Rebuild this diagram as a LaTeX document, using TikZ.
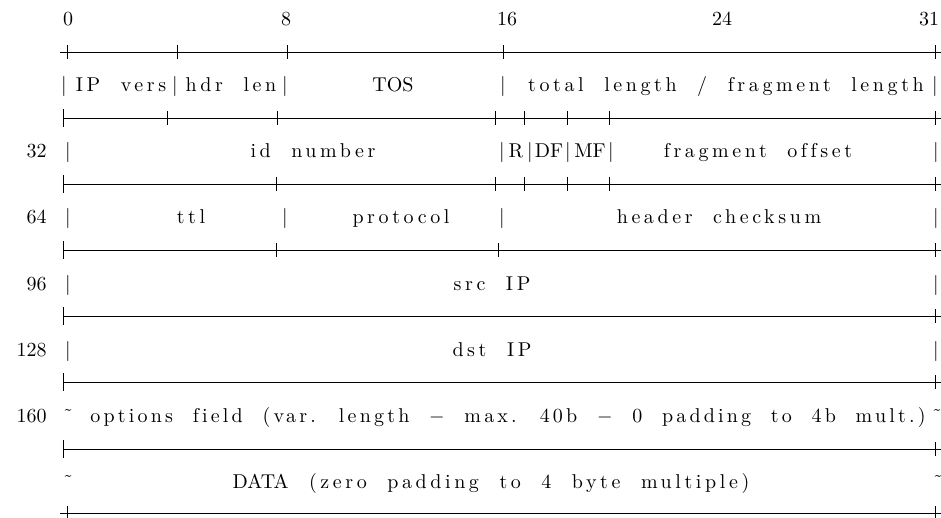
\documentclass[tikz,border=0pt]{standalone}
\usepackage{fontspec}
\newfontfamily\spacedfont{lmroman10-regular}[Extension=.otf, LetterSpace=18, WordSpace=2.0, Ligatures={NoCommon}]
\newfontfamily\optsfont{lmroman10-regular}[Extension=.otf, LetterSpace=16, WordSpace=2.0, Ligatures={NoCommon}]
\newcommand\hdrtilde{{\char"02DC}}

\begin{document}
\begin{tikzpicture}
    [x=0.5pt, y=-0.5pt,
     rule/.style={line width=0.4pt},
     fld/.style={anchor=base, inner sep=0pt, font=\spacedfont},
     caps/.style={anchor=base, inner sep=0pt},
     bar/.style={anchor=base, inner sep=0pt},
     bitno/.style={anchor=base, inner sep=0pt},
     rowno/.style={anchor=base east, inner sep=0pt}]

    \useasboundingbox (0,0) rectangle (941,518);

    % bit numbers
    \node [bitno] (n0)  at (68,26)  {0};
    \node [bitno] (n8)  at (286,26) {8};
    \node [bitno] (n16) at (507,26) {16};
    \node [bitno] (n24) at (722,26) {24};
    \node [bitno] (n31) at (929,26) {31};

    % rules
    \draw [rule] (60,52) -- (941,52);
    \foreach \x in {67,177,287,503,935}
        \draw [rule] (\x,45) -- (\x,59);
    \foreach \y in {118,184,250,316,382,449} {
        \draw [rule] (63,\y) -- (941,\y);
        \draw [rule] (63,\y-9) -- (63,\y+9);
        \draw [rule] (935,\y-7) -- (935,\y+7);
    }
    \foreach \x in {167,277,495,524,567,609}
        \draw [rule] (\x,111) -- (\x,125);
    \foreach \x in {276,495,524,567,609}
        \draw [rule] (\x,177) -- (\x,191);
    \foreach \x in {276,498}
        \draw [rule] (\x,243) -- (\x,257);
    \draw [rule] (60,513) -- (941,513);
    \foreach \x in {67,935}
        \draw [rule] (\x,506) -- (\x,520);

    % row 0
    \node [bar] (b0a) at (64,92)  {|};
    \node [fld] (vers) at (121,92) {IP vers};
    \node [bar] (b0b) at (175,92) {|};
    \node [fld] (hlen) at (231,92) {hdr len};
    \node [bar] (b0c) at (285,92) {|};
    \node [caps] (tos) at (393,92) {TOS};
    \node [bar] (b0d) at (503,92) {|};
    \node [fld] (tlen) at (726,92) {total length / fragment length};
    \node [bar] (b0e) at (935,92) {|};

    % row 32
    \node [rowno] (r32) at (47,158) {32};
    \node [bar] (b1a) at (68,158) {|};
    \node [fld] (idnum) at (313,158) {id number};
    \node [bar] (b1b) at (502,158) {|};
    \node [caps] (fr) at (516,158) {R};
    \node [bar] (b1c) at (530,158) {|};
    \node [caps] (fdf) at (549,158) {DF};
    \node [bar] (b1d) at (568,158) {|};
    \node [caps] (fmf) at (590,158) {MF};
    \node [bar] (b1e) at (611,158) {|};
    \node [fld] (foff) at (758,158) {fragment offset};
    \node [bar] (b1f) at (936,158) {|};

    % row 64
    \node [rowno] (r64) at (47,224) {64};
    \node [bar] (b2a) at (68,224) {|};
    \node [fld] (ttl) at (191,224) {ttl};
    \node [bar] (b2b) at (285,224) {|};
    \node [fld] (proto) at (401,224) {protocol};
    \node [bar] (b2c) at (502,224) {|};
    \node [fld] (csum) at (719,224) {header checksum};
    \node [bar] (b2d) at (936,224) {|};

    % row 96
    \node [rowno] (r96) at (47,290) {96};
    \node [bar] (b3a) at (68,290) {|};
    \node [fld] (src) at (492,290) {src IP};
    \node [bar] (b3b) at (936,290) {|};

    % row 128
    \node [rowno] (r128) at (47,356) {128};
    \node [bar] (b4a) at (68,356) {|};
    \node [fld] (dst) at (492,356) {dst IP};
    \node [bar] (b4b) at (936,356) {|};

    % row 160
    \node [rowno] (r160) at (47,422) {160};
    \node [bar] (t5a) at (68,422) {\hdrtilde};
    \node [fld, font=\optsfont] (opts) at (508,422) {options field (var. length $-$ max. 40b $-$ 0 padding to 4b mult.)};
    \node [bar] (t5b) at (937,422) {\hdrtilde};

    % data
    \node [bar] (t6a) at (68,488) {\hdrtilde};
    \node [fld] (data) at (491,488) {{\normalfont DATA} (zero padding to 4 byte multiple)};
    \node [bar] (t6b) at (938,488) {\hdrtilde};
\end{tikzpicture}
\end{document}
